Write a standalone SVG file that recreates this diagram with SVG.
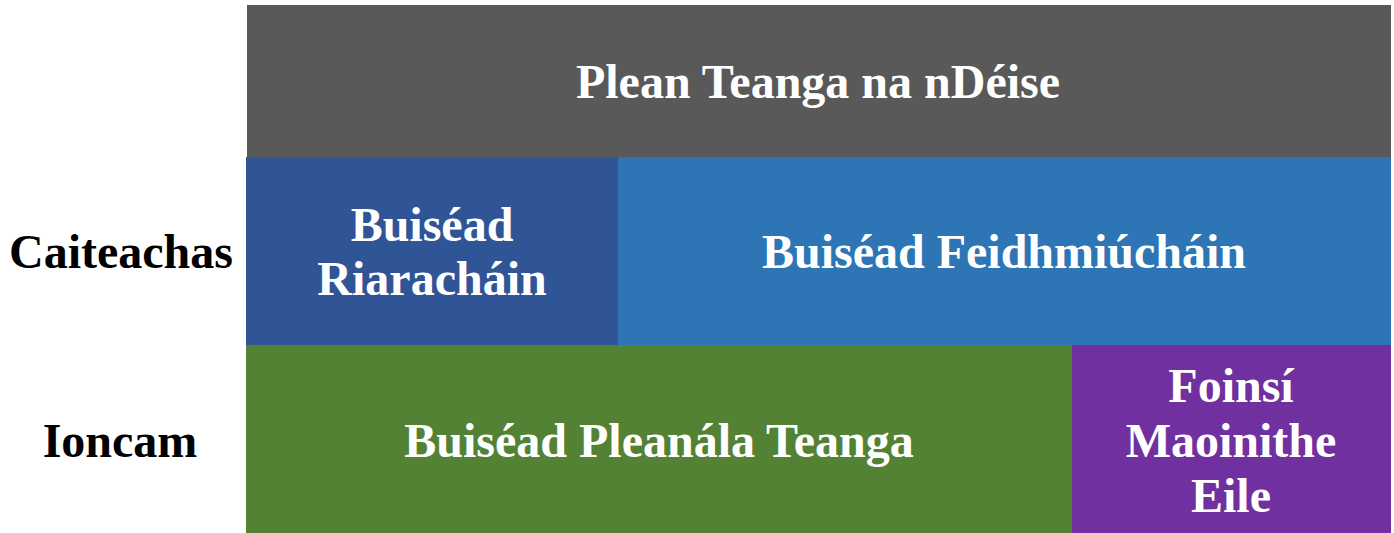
<svg xmlns="http://www.w3.org/2000/svg" width="1394" height="533" viewBox="0 0 1394 533">
<style>
text{font-family:"Liberation Serif","Times New Roman",serif;font-weight:bold;font-size:48px;text-anchor:middle}
.w{fill:#ffffff}
.k{fill:#000000}
</style>
<rect x="0" y="0" width="1394" height="533" fill="#ffffff"/>
<g id="plean">
<rect x="247" y="5" width="1144" height="152" fill="#595959"/>
<text class="w" x="818" y="98">Plean Teanga na nDéise</text>
</g>
<g id="riarachain">
<rect x="246" y="157" width="372" height="188" fill="#2F5597"/>
<text class="w" x="432" y="241">Buiséad</text>
<text class="w" x="432" y="295">Riaracháin</text>
</g>
<g id="feidhmiuchain">
<rect x="618" y="157" width="773" height="188" fill="#2E75B6"/>
<text class="w" x="1004" y="268">Buiséad Feidhmiúcháin</text>
</g>
<g id="pleanala">
<rect x="246" y="345" width="826" height="188" fill="#548235"/>
<text class="w" x="659" y="457">Buiséad Pleanála Teanga</text>
</g>
<g id="foinsi">
<rect x="1072" y="345" width="319" height="188" fill="#7030A0"/>
<text class="w" x="1231" y="402">Foinsí</text>
<text class="w" x="1231" y="457">Maoinithe</text>
<text class="w" x="1231" y="512">Eile</text>
</g>
<g id="caiteachas">
<text class="k" x="121" y="268">Caiteachas</text>
</g>
<g id="ioncam">
<text class="k" x="120" y="457">Ioncam</text>
</g>
<g id="connectors"></g>
</svg>
